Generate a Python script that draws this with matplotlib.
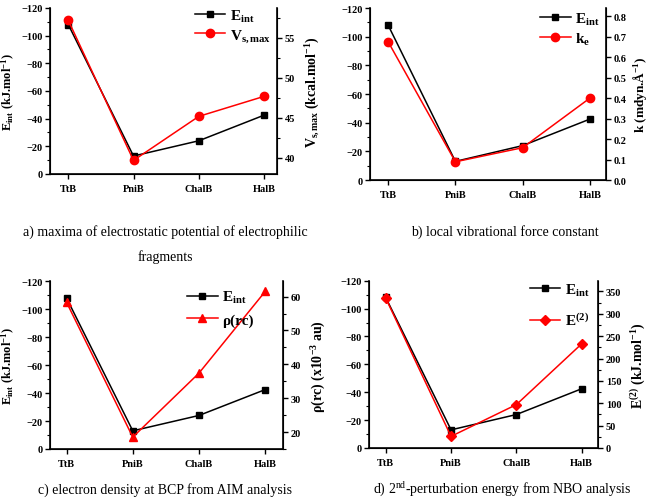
import numpy as np
import matplotlib.pyplot as plt
from matplotlib.ticker import MultipleLocator

plt.rcParams['font.family'] = 'Liberation Serif'
plt.rcParams['mathtext.fontset'] = 'custom'
plt.rcParams['mathtext.rm'] = 'Liberation Serif'
plt.rcParams['mathtext.it'] = 'Liberation Serif:italic'
plt.rcParams['mathtext.bf'] = 'Liberation Serif:bold'

# data
categories = ['TtB', 'PniB', 'ChalB', 'HalB']
e_int = [-108, -13, -24, -42.5]
vs_max = [57.2, 39.7, 45.2, 47.7]
k_e = [0.675, 0.089, 0.158, 0.40]
rho_rc = [58.3, 18.5, 37.4, 61.5]
e2 = [335, 26, 97, 233]

x = np.arange(len(categories))

fig = plt.figure(figsize=(6.48, 5.02), dpi=100)


def panel(rect, xlim, right_vals, marker, ms, rlim, rmaj, rmin, rlabel,
          leg_label, leg_anchor, left_label=True, leg_gap=0.5, rpad=4, rsize=10):
    ax = fig.add_axes(rect)
    ax.plot(x, e_int, '-s', color='black', ms=5, lw=1.1, label=r'E$_{\mathbf{int}}$')
    ax.set_ylim(0, -120)
    ax.set_xlim(*xlim)
    ax.yaxis.set_major_locator(MultipleLocator(20))
    ax.yaxis.set_minor_locator(MultipleLocator(10))
    ax.set_xticks(x)
    ax.set_xticklabels(categories, fontsize=7.5, fontweight='bold')
    for t in ax.get_yticklabels():
        t.set_fontsize(7.5)
        t.set_fontweight('bold')
    ax.tick_params(direction='out', length=3.5, width=1, pad=2)
    ax.tick_params(which='minor', length=2, width=0.8)
    ax.tick_params(axis='x', pad=4)
    ax.spines['top'].set_visible(False)
    for s in ['left', 'bottom']:
        ax.spines[s].set_linewidth(1.2)
    if left_label:
        ax.set_ylabel(r'E$_{\mathbf{int}}$ (kJ.mol$^{\mathbf{-1}}$)',
                      fontsize=9, fontweight='bold', labelpad=3)

    ax2 = ax.twinx()
    ax2.plot(x, right_vals, '-', marker=marker, color='red', ms=ms, lw=1.1, label=leg_label)
    ax2.set_ylim(*rlim)
    ax2.yaxis.set_major_locator(MultipleLocator(rmaj))
    if rmin:
        ax2.yaxis.set_minor_locator(MultipleLocator(rmin))
    for t in ax2.get_yticklabels():
        t.set_fontsize(7.5)
        t.set_fontweight('bold')
    ax2.tick_params(direction='out', length=3.5, width=1, pad=2)
    ax2.tick_params(which='minor', length=2, width=0.8)
    ax2.spines['top'].set_visible(False)
    ax2.spines['right'].set_linewidth(1.2)
    ax2.set_ylabel(rlabel, fontsize=rsize, fontweight='bold', labelpad=rpad)

    h1, l1 = ax.get_legend_handles_labels()
    h2, l2 = ax2.get_legend_handles_labels()
    ax2.legend(h1 + h2, l1 + l2, loc='upper right', bbox_to_anchor=leg_anchor,
               frameon=False, handlelength=2, handletextpad=0.3,
               labelspacing=leg_gap, borderaxespad=0,
               prop={'family': 'Liberation Serif', 'weight': 'bold', 'size': 11})
    return ax, ax2


# a)
panel([0.0772, 0.6514, 0.3503, 0.3307], (-0.28, 3.2), vs_max, 'o', 6,
      (38, 58.75), 5, 2.5, r'V$_{\mathbf{s,max}}$ (kcal.mol$^{\mathbf{-1}}$)',
      r'V$_{\mathbf{s,max}}$', (1.0, 1.04), leg_gap=0.25, rpad=6)
# b)
panel([0.571, 0.6394, 0.3642, 0.3426], (-0.27, 3.24), k_e, 'o', 6,
      (0, 0.84), 0.1, None, 'k (mdyn.Å$^{\mathbf{-1}}$)',
      r'k$_{\mathbf{e}}$', (1.0, 1.02), left_label=False, leg_gap=0.25, rpad=3, rsize=9.5)
# c)
panel([0.0772, 0.1036, 0.3596, 0.334], (-0.25, 3.27), rho_rc, '^', 6,
      (15, 64.5), 10, 5, r'ρ(rc) (x10$^{\mathbf{-3}}$ au)',
      'ρ(rc)', (0.9, 0.99), leg_gap=0.5, rpad=6)
# d)
panel([0.570, 0.1056, 0.353, 0.3333], (-0.25, 3.25), e2, 'D', 5.5,
      (0, 374), 50, 25, r'E$^{\mathbf{(2)}}$ (kJ.mol$^{\mathbf{-1}}$)',
      r'E$^{\mathbf{(2)}}$', (0.99, 1.03), left_label=False, leg_gap=0.9, rpad=5)

# captions
fig.text(165 / 648, 1 - 232 / 502, 'a) maxima of electrostatic potential of electrophilic',
         ha='center', va='center', fontsize=10)
fig.text(165 / 648, 1 - 257 / 502, 'fragments', ha='center', va='center', fontsize=10)
fig.text(505 / 648, 1 - 232 / 502, 'b) local vibrational force constant',
         ha='center', va='center', fontsize=10)
fig.text(165 / 648, 1 - 490 / 502, 'c) electron density at BCP from AIM analysis',
         ha='center', va='center', fontsize=10)
fig.text(502 / 648, 1 - 490 / 502, r'd) 2$^{\mathrm{nd}}$-perturbation energy from NBO analysis',
         ha='center', va='center', fontsize=10)

fig.savefig('out.png', dpi=100)
